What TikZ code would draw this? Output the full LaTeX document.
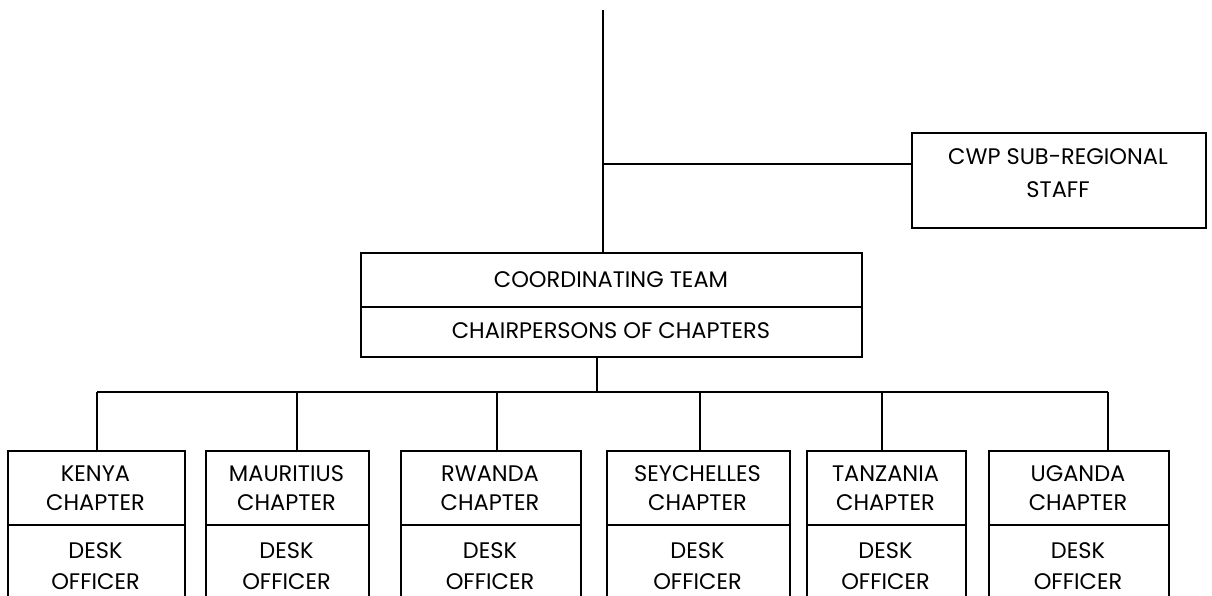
\documentclass[tikz,border=0pt]{standalone}
\usepackage{fontspec}
\setmainfont{Poppins}
\begin{document}
\begin{tikzpicture}[x=1pt,y=-1pt,
  every node/.append style={font=\fontsize{22.5}{26}\selectfont},
  line/.style={line width=1.6pt},
  boxshape/.style={draw,line width=1.6pt,rectangle,inner sep=0pt,anchor=north west},
  lbl/.style={inner sep=0pt,anchor=center}]
\useasboundingbox (0,0) rectangle (1212,596);
% top level
\coordinate (top) at (603,10);
\node[boxshape,minimum width=294pt,minimum height=95pt] (cwp) at (911,132) {};
\node[lbl] (cwp1) at (1058,157) {CWP SUB-REGIONAL};
\node[lbl] (cwp2) at (1058,190) {STAFF};
\node[boxshape,minimum width=501pt,minimum height=104pt] (coord) at (360,252) {};
\draw[line] (coord.west |- 0,307) -- (coord.east |- 0,307);
\node[lbl] (ct) at (611,280) {COORDINATING TEAM};
\node[lbl] (cc) at (611,331) {CHAIRPERSONS OF CHAPTERS};
\draw[line] (top) -- (top |- coord.north);
\coordinate (br) at (603,164);
\draw[line] (br) -- (br -| cwp.west);
\coordinate (c1) at (597,356);
% chapters
\foreach \nm/\xl/\xr/\dx/\ttl in {kenya/7/184/97/KENYA, mauritius/205/368/297/MAURITIUS, rwanda/400/580/497/RWANDA, seychelles/606/789/700/SEYCHELLES, tanzania/806/965/882/TANZANIA, uganda/988/1168/1108/UGANDA}{
  \pgfmathsetmacro\w{\xr-\xl}
  \pgfmathsetmacro\cx{(\xl+\xr)/2}
  \node[boxshape,minimum width=\w pt,minimum height=180pt] (\nm) at (\xl,450) {};
  \draw[line] (\nm.west |- 0,525) -- (\nm.east |- 0,525);
  \node[lbl] at (\cx,474) {\ttl};
  \node[lbl] at (\cx,503) {CHAPTER};
  \node[lbl] at (\cx,551) {DESK};
  \node[lbl] at (\cx,582) {OFFICER};
  \coordinate (d\nm) at (\dx,392);
  \draw[line] (d\nm) -- (d\nm |- \nm.north);
}
\draw[line] (dkenya) -- (duganda);
\draw[line] (c1) -- (c1 |- dkenya);
\end{tikzpicture}
\end{document}
